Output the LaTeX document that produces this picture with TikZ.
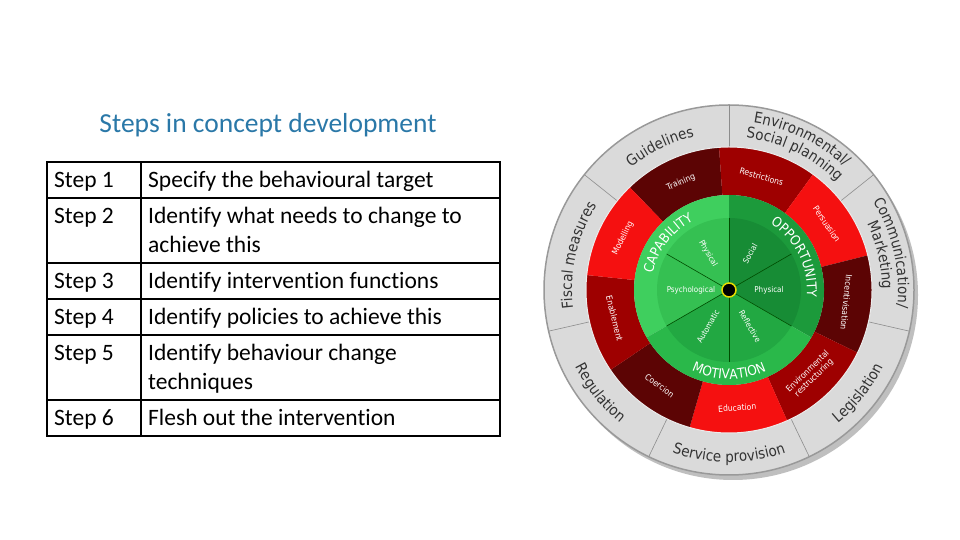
\documentclass[tikz,border=0pt]{standalone}
\usepackage{fontspec}
\setmainfont{Carlito}[Ligatures=NoCommon]
\newfontfamily\wheelfont{DejaVu Sans Condensed}
\usetikzlibrary{decorations.text}
\definecolor{titleblue}{HTML}{2A78A8}
\definecolor{ringgray}{HTML}{DADADA}
\definecolor{rdark}{HTML}{5C0404}
\definecolor{rmid}{HTML}{9E0000}
\definecolor{rbright}{HTML}{F51010}
\definecolor{gcapo}{HTML}{3FCF5E}
\definecolor{gcapi}{HTML}{35C052}
\definecolor{goppo}{HTML}{1C9A3B}
\definecolor{goppi}{HTML}{178C35}
\definecolor{gmoto}{HTML}{2AB84A}
\definecolor{gmoti}{HTML}{22A842}
\begin{document}
\begin{tikzpicture}[x=1pt,y=1pt,
  cell/.style={anchor=base west,inner sep=0pt,font=\fontsize{23.5}{29}\selectfont},
  redtxt/.style={font=\wheelfont\fontsize{8.5}{9}\selectfont,text=white,inner sep=0pt},
  greentxt/.style={font=\wheelfont\fontsize{8}{9}\selectfont,text=white,inner sep=0pt},
  tabline/.style={draw=black,line width=1.2pt},
  graylbl/.style={decorate,decoration={text along path,text align=center,text color=black!80,
    text={|\wheelfont\fontsize{15}{15}\selectfont|#1}}},
  greenlbl/.style={decorate,decoration={text along path,text align=center,text color=white,
    text={|\wheelfont\fontsize{13.5}{14}\selectfont|#1}}}]
\useasboundingbox (0,0) rectangle (960,540);
\fill[white] (0,0) rectangle (960,540);
% title
\node[font=\fontsize{27.5}{30}\selectfont,text=titleblue,anchor=base] (title) at (268,407) {Steps in concept development};
% table
\draw[tabline] (47,378) rectangle (500,104);
\foreach \yy in {342,277,241,205,140} \draw[tabline] (47,\yy) -- (500,\yy);
\draw[tabline] (141,378) -- (141,104);
\node[cell] (s1) at (54,352) {Step 1};
\node[cell] (d1) at (148,352) {Specify the behavioural target};
\node[cell] (s2) at (54,316) {Step 2};
\node[cell] (d2) at (148,316) {Identify what needs to change to};
\node[cell] (d2b) at (148,287) {achieve this};
\node[cell] (s3) at (54,251) {Step 3};
\node[cell] (d3) at (148,251) {Identify intervention functions};
\node[cell] (s4) at (54,215) {Step 4};
\node[cell] (d4) at (148,215) {Identify policies to achieve this};
\node[cell] (s5) at (54,179) {Step 5};
\node[cell] (d5) at (148,179) {Identify behaviour change};
\node[cell] (d5b) at (148,150) {techniques};
\node[cell] (s6) at (54,114) {Step 6};
\node[cell] (d6) at (148,114) {Flesh out the intervention};
% wheel
\coordinate (C) at (729,250);
\fill[black!25] ([shift={(4,-5)}]C) circle[radius=185pt];
\fill[ringgray] (C) circle[radius=185pt];
\draw[black!40,line width=1.5pt] (C) circle[radius=185pt];
\foreach \a in {90,141.43,192.86,244.29,295.71,347.14,38.57}
  \draw[black!45,line width=0.6pt] ([shift={(\a:143)}]C) -- ([shift={(\a:185)}]C);
% red ring
\foreach \a/\c in {94/rdark,54/rmid,14/rbright,-26/rdark,-66/rmid,-106/rbright,-146/rdark,174/rmid,134/rbright}
  \fill[\c] ([shift={(\a:143)}]C) arc[start angle=\a,end angle=\a+40,radius=143pt]
     -- ([shift={(\a+40:95)}]C) arc[start angle=\a+40,end angle=\a,radius=95pt] -- cycle;
\draw[white!85!gray,line width=1pt] (C) circle[radius=143pt];
% green
\foreach \a/\co/\ci in {90/gcapo/gcapi,-30/goppo/goppi,210/gmoto/gmoti}{
  \fill[\co] (C) -- ([shift={(\a:95)}]C) arc[start angle=\a,end angle=\a+120,radius=95pt] -- cycle;
  \fill[\ci] (C) -- ([shift={(\a:72)}]C) arc[start angle=\a,end angle=\a+120,radius=72pt] -- cycle;}
\foreach \a in {30,90,150,210,270,330}
  \draw[black!70!green,line width=0.6pt] (C) -- ([shift={(\a:72)}]C);
\fill[black] (C) circle[radius=7pt];
\draw[yellow!80!olive,line width=1.5pt] (C) circle[radius=7pt];
% green inner labels
\node[greentxt,rotate=-60] (gcp) at ([shift={(120:42)}]C) {Physical};
\node[greentxt,rotate=60] (gs) at ([shift={(60:42)}]C) {Social};
\node[greentxt] (gop) at ([shift={(0:40)}]C) {Physical};
\node[greentxt,rotate=-60] (gr) at ([shift={(-60:42)}]C) {Reflective};
\node[greentxt,rotate=60] (ga) at ([shift={(240:42)}]C) {Automatic};
\node[greentxt] (gps) at ([shift={(180:38)}]C) {Psychological};
% green ring labels
\path[greenlbl=CAPABILITY] ([shift={(200:78)}]C) arc[start angle=200,end angle=85,radius=78pt];
\path[greenlbl=OPPORTUNITY] ([shift={(88:78)}]C) arc[start angle=88,end angle=-35,radius=78pt];
\path[greenlbl=MOTIVATION] ([shift={(220:89)}]C) arc[start angle=220,end angle=320,radius=89pt];
% red labels
\node[redtxt,rotate=24] (rt) at ([shift={(114:118)}]C) {Training};
\node[redtxt,rotate=-16] (rr) at ([shift={(74:118)}]C) {Restrictions};
\node[redtxt,rotate=-56] (rp) at ([shift={(34:118)}]C) {Persuasion};
\node[redtxt,rotate=-96] (ri) at ([shift={(-6:118)}]C) {Incentivisation};
\node[redtxt,rotate=44,align=center] (re) at ([shift={(-46:118)}]C) {Environmental\\restructuring};
\node[redtxt,rotate=4] (red) at ([shift={(-86:118)}]C) {Education};
\node[redtxt,rotate=-36] (rc) at ([shift={(-126:118)}]C) {Coercion};
\node[redtxt,rotate=-76] (ren) at ([shift={(194:118)}]C) {Enablement};
\node[redtxt,rotate=64] (rm) at ([shift={(154:118)}]C) {Modelling};
% gray labels, clockwise (top)
\path[graylbl=Guidelines] ([shift={(155.71:157)}]C) arc[start angle=155.71,end angle=75.71,radius=157pt];
\path[graylbl=Fiscal measures] ([shift={(207.14:157)}]C) arc[start angle=207.14,end angle=127.14,radius=157pt];
\path[graylbl={Environmental/}] ([shift={(104.29:169)}]C) arc[start angle=104.29,end angle=24.29,radius=169pt];
\path[graylbl=Social planning] ([shift={(104.29:153)}]C) arc[start angle=104.29,end angle=24.29,radius=153pt];
\path[graylbl={Communication/}] ([shift={(52.86:169)}]C) arc[start angle=52.86,end angle=-27.14,radius=169pt];
\path[graylbl=Marketing] ([shift={(52.86:153)}]C) arc[start angle=52.86,end angle=-27.14,radius=153pt];
% gray labels, counter-clockwise (bottom)
\path[graylbl=Legislation] ([shift={(-78.57:172)}]C) arc[start angle=-78.57,end angle=1.43,radius=172pt];
\path[graylbl=Service provision] ([shift={(-130:172)}]C) arc[start angle=-130,end angle=-50,radius=172pt];
\path[graylbl=Regulation] ([shift={(178.57:172)}]C) arc[start angle=178.57,end angle=258.57,radius=172pt];
\end{tikzpicture}
\end{document}
